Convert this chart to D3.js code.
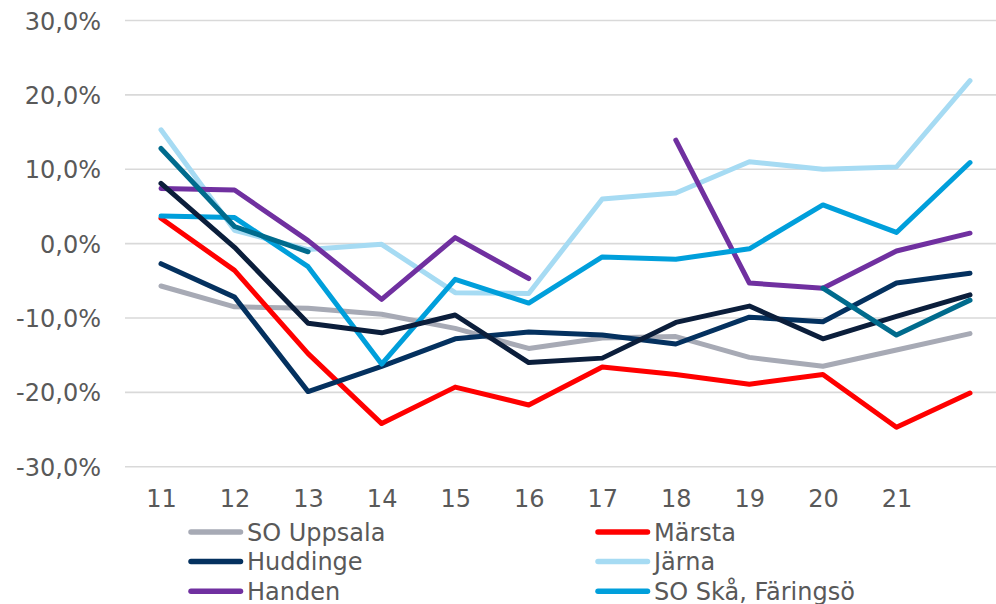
<!DOCTYPE html>
<html>
<head>
<meta charset="utf-8">
<script src="https://cdn.jsdelivr.net/npm/d3@7"></script>
<style>
  body { margin: 0; background: #fff; }
  svg { display: block; }
  svg text { font-family: "DejaVu Sans", Verdana, sans-serif; font-size: 24px; fill: #595959; }
</style>
</head>
<body>
<svg id="chart" width="996" height="604" viewBox="0 0 996 604"></svg>
<script>
// categories (last one has no label in the original)
const categories = ["11","12","13","14","15","16","17","18","19","20","21",""]
const yTicks = [-30,-20,-10,0,10,20,30]

// series values, in %, null = gap
const soUppsala = [-5.7,-8.5,-8.7,-9.5,-11.4,-14.1,-12.7,-12.5,-15.3,-16.5,-14.3,-12.1]
const marsta    = [3.4,-3.6,-14.8,-24.2,-19.3,-21.7,-16.6,-17.6,-18.9,-17.6,-24.7,-20.1]
const huddinge  = [-2.7,-7.2,-19.9,-16.5,-12.8,-11.9,-12.3,-13.5,-9.9,-10.5,-5.3,-4.0]
const jarna     = [15.3,1.8,-0.8,-0.1,-6.6,-6.7,6.0,6.8,11.0,10.0,10.3,21.9]
const handen    = [7.4,7.2,0.4,-7.5,0.8,-4.7,null,13.9,-5.3,-6.0,-1.0,1.4]
const soSka     = [3.7,3.5,-3.1,-16.2,-4.8,-8.0,-1.8,-2.1,-0.7,5.2,1.5,10.9]
const serie7    = [8.1,-0.5,-10.7,-12.0,-9.6,-16.0,-15.4,-10.6,-8.4,-12.8,-9.8,-6.9]
const serie8    = [12.8,2.3,-1.1,null,null,null,null,null,null,-6.0,-12.3,-7.6]

const seriesNames  = ["SO Uppsala","Märsta","Huddinge","Järna","Handen","SO Skå, Färingsö","",""]
const seriesValues = [soUppsala, marsta, huddinge, jarna, handen, soSka, serie7, serie8]
const seriesColors = ["#A7AAB5","#FF0000","#04315F","#A6DBF3","#7030A0","#009FDB","#0B1E3B","#006B8D"]

const svg = d3.select("#chart")

const x = d3.scalePoint().domain(categories).range([161, 970])
const y = d3.scaleLinear().domain([-30, 30]).range([466.7, 20.5])

const locale = d3.formatLocale({decimal: ",", thousands: " ", grouping: [3], currency: ["", " kr"], minus: "-"})
const fmt = v => locale.format(".1f")(v) + "%"

// gridlines
svg.append("g")
    .selectAll("line")
    .data(yTicks)
    .enter()
    .append("line")
    .attr("x1", 125)
    .attr("x2", 996)
    .attr("y1", d => y(d))
    .attr("y2", d => y(d))
    .attr("stroke", "#D9D9D9")
    .attr("stroke-width", 1.6)

// y axis labels
const yAxis = svg.append("g")
    .attr("transform", "translate(101,0)")
    .call(d3.axisLeft(y).tickValues(yTicks).tickFormat(fmt).tickSize(0).tickPadding(0))
yAxis.attr("font-family", null).attr("font-size", null)
yAxis.select(".domain").remove()
yAxis.selectAll("text")
    .attr("fill", null)
    .attr("dy", "0.36em")

// x axis labels
const xAxis = svg.append("g")
    .attr("transform", "translate(0,489)")
    .call(d3.axisBottom(x).tickSize(0).tickPadding(0))
xAxis.attr("font-family", null).attr("font-size", null)
xAxis.select(".domain").remove()
xAxis.selectAll("text")
    .attr("fill", null)
    .attr("dy", "0.76em")

// lines
const line = d3.line()
    .defined(d => d.v !== null)
    .x(d => x(d.c))
    .y(d => y(d.v))

svg.append("g")
    .selectAll("path")
    .data(seriesValues)
    .enter()
    .append("path")
    .attr("d", vals => line(vals.map((v, i) => ({c: categories[i], v: v}))))
    .attr("fill", "none")
    .attr("stroke", (d, i) => seriesColors[i])
    .attr("stroke-width", 5)
    .attr("stroke-linejoin", "round")
    .attr("stroke-linecap", "round")

// legend, 2 columns (only the rows that fit in the picture)
const legendItems = seriesNames.slice(0, 6).map((name, i) => ({name: name, color: seriesColors[i], i: i}))
const legend = svg.append("g")
    .selectAll("g")
    .data(legendItems)
    .enter()
    .append("g")
    .attr("transform", d => `translate(${d.i % 2 === 0 ? 188 : 595},${532 + Math.floor(d.i / 2) * 29.6})`)

legend.append("line")
    .attr("x1", 3)
    .attr("x2", 52.5)
    .attr("stroke", d => d.color)
    .attr("stroke-width", 5.5)
    .attr("stroke-linecap", "round")

legend.append("text")
    .attr("x", 59)
    .attr("dy", "0.36em")
    .text(d => d.name)
</script>
</body>
</html>
